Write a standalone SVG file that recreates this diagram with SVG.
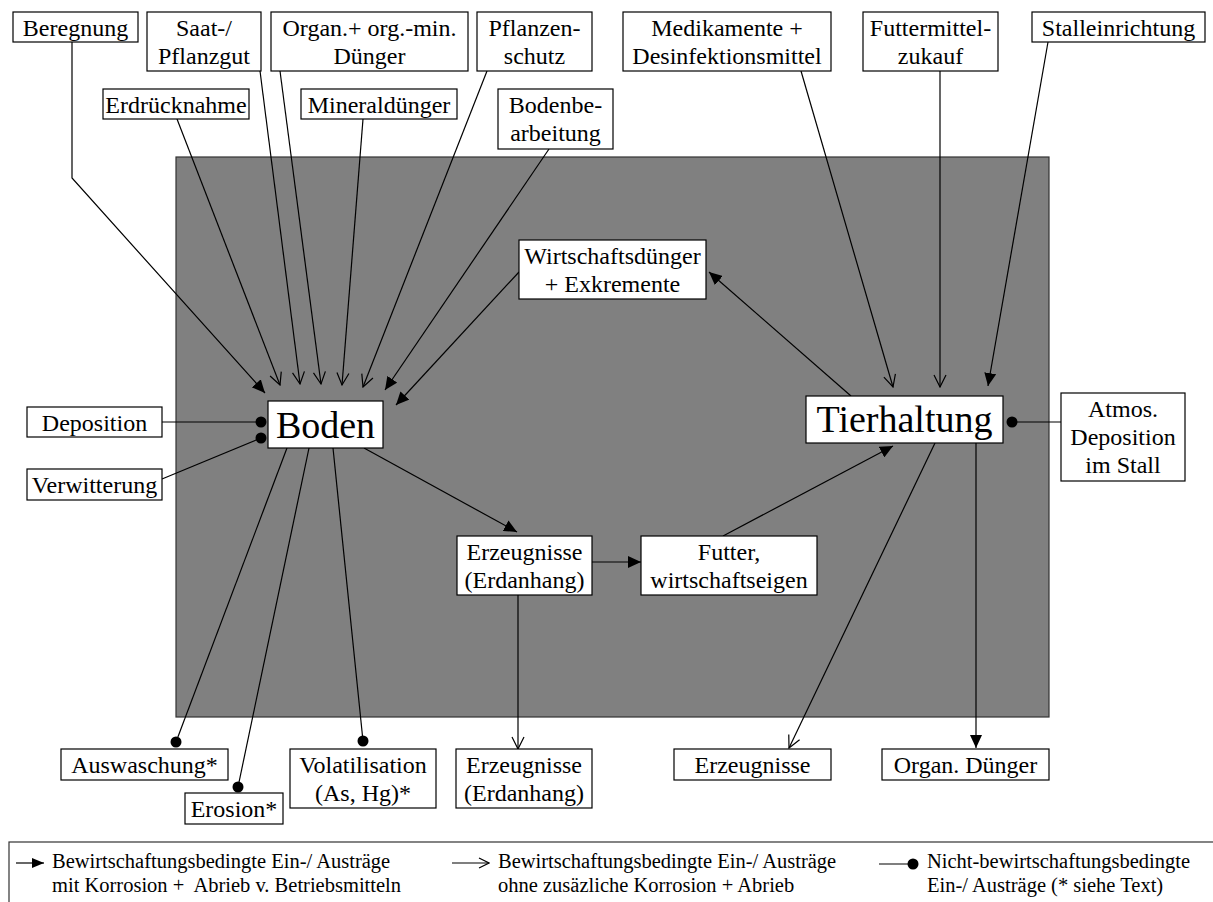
<svg xmlns="http://www.w3.org/2000/svg" width="1213" height="902" viewBox="0 0 1213 902">
<style>
.bg{fill:#ffffff}
.area{fill:#808080;stroke:#333333;stroke-width:1.2}
.box{fill:#ffffff;stroke:#000000;stroke-width:1.2}
.t{font-family:"Liberation Serif","Times New Roman",serif;font-size:24px;fill:#000;text-anchor:middle}
.big{font-family:"Liberation Serif","Times New Roman",serif;font-size:38px;fill:#000;text-anchor:middle}
.lg{font-family:"Liberation Serif","Times New Roman",serif;font-size:20.5px;fill:#000;white-space:pre}
.c{fill:none;stroke:#000;stroke-width:1.2}
.dot{fill:#000}
.legend{fill:#ffffff;stroke:#333333;stroke-width:1.2}
</style>
<defs>
<marker id="af" viewBox="0 0 13 12" refX="13" refY="6" markerWidth="13" markerHeight="12" markerUnits="userSpaceOnUse" orient="auto"><path d="M0,0 L13,6 L0,12 z" fill="#000"/></marker>
<marker id="ao" viewBox="0 0 14 14" refX="13" refY="7" markerWidth="14" markerHeight="14" markerUnits="userSpaceOnUse" orient="auto"><path d="M1,1 L13,7 L1,13" fill="none" stroke="#000" stroke-width="1.2"/></marker>
<marker id="afs" viewBox="0 0 12 10" refX="12" refY="5" markerWidth="12" markerHeight="10" markerUnits="userSpaceOnUse" orient="auto"><path d="M0,0 L12,5 L0,10 z" fill="#000"/></marker>
<marker id="aos" viewBox="0 0 12 12" refX="11" refY="6" markerWidth="12" markerHeight="12" markerUnits="userSpaceOnUse" orient="auto"><path d="M1,1 L11,6 L1,11" fill="none" stroke="#000" stroke-width="1.2"/></marker>
</defs>
<rect class="bg" x="0" y="0" width="1213" height="902"/>
<rect id="betrieb" class="area" x="176" y="157" width="873" height="560"/>

<g id="connectors">
<polyline class="c" points="72,42 72,178 265,393" marker-end="url(#af)"/>
<line class="c" x1="177" y1="119" x2="280" y2="385" marker-end="url(#ao)"/>
<line class="c" x1="260" y1="71" x2="300" y2="384" marker-end="url(#ao)"/>
<line class="c" x1="280" y1="71" x2="321" y2="384" marker-end="url(#ao)"/>
<line class="c" x1="363" y1="119" x2="342" y2="385" marker-end="url(#ao)"/>
<line class="c" x1="487" y1="71" x2="363" y2="387" marker-end="url(#ao)"/>
<line class="c" x1="549" y1="149" x2="385" y2="390" marker-end="url(#af)"/>
<line class="c" x1="519" y1="272" x2="396" y2="405" marker-end="url(#af)"/>
<line class="c" x1="162" y1="422" x2="261" y2="422"/>
<line class="c" x1="162" y1="479" x2="261" y2="438"/>
<line class="c" x1="287" y1="448" x2="176" y2="742"/>
<line class="c" x1="309" y1="448" x2="238" y2="787"/>
<line class="c" x1="333" y1="448" x2="363" y2="741"/>
<line class="c" x1="364" y1="448" x2="517" y2="532" marker-end="url(#af)"/>
<line class="c" x1="592" y1="562" x2="641" y2="562" marker-end="url(#af)"/>
<line class="c" x1="723" y1="536" x2="893" y2="446" marker-end="url(#af)"/>
<line class="c" x1="518" y1="595" x2="518" y2="749" marker-end="url(#ao)"/>
<line class="c" x1="851" y1="396" x2="709" y2="272" marker-end="url(#af)"/>
<line class="c" x1="801" y1="71" x2="893" y2="387" marker-end="url(#ao)"/>
<line class="c" x1="940" y1="71" x2="940" y2="387" marker-end="url(#ao)"/>
<line class="c" x1="1048" y1="42" x2="988" y2="386" marker-end="url(#af)"/>
<line class="c" x1="1061" y1="422" x2="1012" y2="422"/>
<line class="c" x1="935" y1="443" x2="789" y2="748" marker-end="url(#ao)"/>
<line class="c" x1="976" y1="443" x2="976" y2="748" marker-end="url(#af)"/>
<circle class="dot" cx="261" cy="422" r="5.5"/>
<circle class="dot" cx="261" cy="438" r="5.5"/>
<circle class="dot" cx="176" cy="742" r="5.5"/>
<circle class="dot" cx="238" cy="787" r="5.5"/>
<circle class="dot" cx="363" cy="741" r="5.5"/>
<circle class="dot" cx="1012" cy="422" r="5.5"/>
</g>

<g id="n-beregnung"><rect class="box" x="13" y="12" width="125" height="30"/><text class="t" x="75.5" y="36">Beregnung</text></g>
<g id="n-saat"><rect class="box" x="147" y="12" width="114" height="59"/><text class="t"><tspan x="204" y="36">Saat-/</tspan><tspan x="204" y="64">Pflanzgut</tspan></text></g>
<g id="n-organ"><rect class="box" x="271" y="12" width="197" height="59"/><text class="t"><tspan x="369.5" y="36">Organ.+ org.-min.</tspan><tspan x="369.5" y="64">Dünger</tspan></text></g>
<g id="n-pflanzenschutz"><rect class="box" x="477" y="12" width="115" height="59"/><text class="t"><tspan x="534.5" y="36">Pflanzen-</tspan><tspan x="534.5" y="64">schutz</tspan></text></g>
<g id="n-erdruecknahme"><rect class="box" x="103" y="89" width="146" height="30"/><text class="t" x="176" y="113">Erdrücknahme</text></g>
<g id="n-mineralduenger"><rect class="box" x="301" y="89" width="156" height="30"/><text class="t" x="379" y="113">Mineraldünger</text></g>
<g id="n-bodenbearbeitung"><rect class="box" x="498" y="89" width="115" height="60"/><text class="t"><tspan x="555.5" y="113">Bodenbe-</tspan><tspan x="555.5" y="141">arbeitung</tspan></text></g>
<g id="n-medikamente"><rect class="box" x="623" y="12" width="208" height="59"/><text class="t"><tspan x="727" y="36">Medikamente +</tspan><tspan x="727" y="64">Desinfektionsmittel</tspan></text></g>
<g id="n-futtermittel"><rect class="box" x="863" y="12" width="135" height="59"/><text class="t"><tspan x="930.5" y="36">Futtermittel-</tspan><tspan x="930.5" y="64">zukauf</tspan></text></g>
<g id="n-stalleinrichtung"><rect class="box" x="1032" y="12" width="173" height="30"/><text class="t" x="1118.5" y="36">Stalleinrichtung</text></g>
<g id="n-wirtschaftsduenger"><rect class="box" x="519" y="240" width="187" height="59"/><text class="t"><tspan x="612.5" y="264">Wirtschaftsdünger</tspan><tspan x="612.5" y="292">+ Exkremente</tspan></text></g>
<g id="n-boden"><rect class="box" x="268" y="401" width="115" height="47"/><text class="big" x="325.5" y="438">Boden</text></g>
<g id="n-tierhaltung"><rect class="box" x="806" y="396" width="197" height="47"/><text class="big" x="904.5" y="432">Tierhaltung</text></g>
<g id="n-deposition"><rect class="box" x="27" y="407" width="135" height="30"/><text class="t" x="94.5" y="431">Deposition</text></g>
<g id="n-verwitterung"><rect class="box" x="27" y="469" width="135" height="31"/><text class="t" x="94.5" y="493">Verwitterung</text></g>
<g id="n-atmos"><rect class="box" x="1061" y="393" width="124" height="88"/><text class="t"><tspan x="1123" y="417">Atmos.</tspan><tspan x="1123" y="445">Deposition</tspan><tspan x="1123" y="473">im Stall</tspan></text></g>
<g id="n-erzeugnisse-mitte"><rect class="box" x="457" y="536" width="135" height="59"/><text class="t"><tspan x="524.5" y="560">Erzeugnisse</tspan><tspan x="524.5" y="588">(Erdanhang)</tspan></text></g>
<g id="n-futter"><rect class="box" x="641" y="536" width="176" height="59"/><text class="t"><tspan x="729" y="560">Futter,</tspan><tspan x="729" y="588">wirtschaftseigen</tspan></text></g>
<g id="n-auswaschung"><rect class="box" x="61" y="749" width="167" height="31"/><text class="t" x="144.5" y="773">Auswaschung*</text></g>
<g id="n-erosion"><rect class="box" x="185" y="793" width="98" height="31"/><text class="t" x="234" y="817">Erosion*</text></g>
<g id="n-volatilisation"><rect class="box" x="290" y="749" width="146" height="59"/><text class="t"><tspan x="363" y="773">Volatilisation</tspan><tspan x="363" y="801">(As, Hg)*</tspan></text></g>
<g id="n-erzeugnisse-erdanhang"><rect class="box" x="456" y="749" width="136" height="59"/><text class="t"><tspan x="524" y="773">Erzeugnisse</tspan><tspan x="524" y="801">(Erdanhang)</tspan></text></g>
<g id="n-erzeugnisse"><rect class="box" x="674" y="749" width="157" height="31"/><text class="t" x="752.5" y="773">Erzeugnisse</text></g>
<g id="n-organ-duenger"><rect class="box" x="882" y="749" width="167" height="31"/><text class="t" x="965.5" y="773">Organ. Dünger</text></g>

<g id="legend">
<rect class="legend" x="9" y="842" width="1215" height="70"/>
<line class="c" x1="16" y1="863" x2="44" y2="863" marker-end="url(#afs)"/>
<text class="lg"><tspan x="52" y="868">Bewirtschaftungsbedingte Ein-/ Austräge</tspan><tspan x="52" y="892">mit Korrosion +  Abrieb v. Betriebsmitteln</tspan></text>
<line class="c" x1="452" y1="863" x2="489" y2="863" marker-end="url(#aos)"/>
<text class="lg"><tspan x="498" y="868">Bewirtschaftungsbedingte Ein-/ Austräge</tspan><tspan x="498" y="892">ohne zusäzliche Korrosion + Abrieb</tspan></text>
<line class="c" x1="879" y1="864" x2="913" y2="864"/>
<circle class="dot" cx="913" cy="864" r="5.5"/>
<text class="lg"><tspan x="927" y="868">Nicht-bewirtschaftungsbedingte</tspan><tspan x="927" y="892">Ein-/ Austräge (* siehe Text)</tspan></text>
</g>
</svg>
